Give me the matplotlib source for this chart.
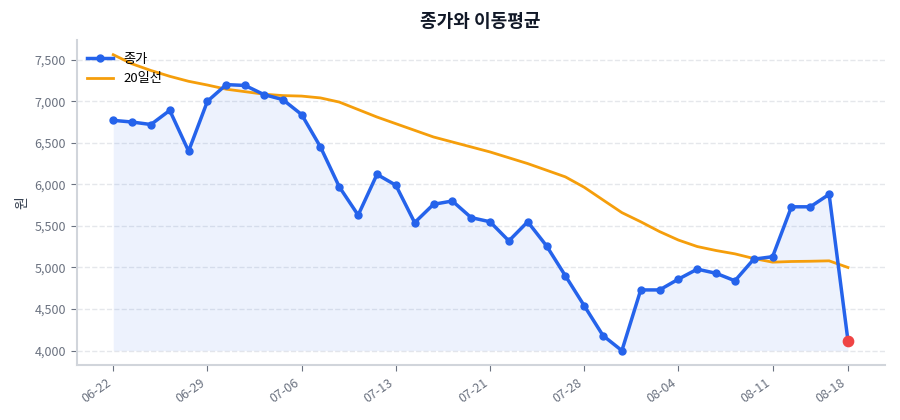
import numpy as np
import matplotlib
matplotlib.use("Agg")
import matplotlib.pyplot as plt

plt.rcParams["font.family"] = ["Noto Sans CJK KR", "DejaVu Sans"]
plt.rcParams["axes.unicode_minus"] = False

# 거래일 (MM-DD)
dates = [
    "06-22", "06-23", "06-24", "06-25", "06-26",
    "06-29", "06-30", "07-01", "07-02", "07-03",
    "07-06", "07-07", "07-08", "07-09", "07-10",
    "07-13", "07-14", "07-15", "07-16", "07-20",
    "07-21", "07-22", "07-23", "07-24", "07-27",
    "07-28", "07-29", "07-30", "07-31", "08-03",
    "08-04", "08-05", "08-06", "08-07", "08-10",
    "08-11", "08-12", "08-13", "08-14", "08-18",
]

close = [
    6770, 6750, 6720, 6890, 6400, 7000, 7200, 7190, 7080, 7020,
    6840, 6450, 5970, 5630, 6120, 5990, 5540, 5760, 5800, 5600,
    5550, 5320, 5550, 5260, 4900, 4540, 4180, 4000, 4730, 4730,
    4860, 4980, 4930, 4840, 5100, 5130, 5730, 5730, 5880, 4120,
]

ma20 = [
    7560, 7450, 7370, 7300, 7240, 7195, 7145, 7115, 7085, 7068,
    7062, 7040, 6990, 6900, 6810, 6730, 6650, 6570, 6510, 6450,
    6390, 6320, 6250, 6170, 6090, 5965, 5812, 5660, 5550, 5432,
    5330, 5252, 5204, 5164, 5108, 5064, 5072, 5075, 5080, 5000,
]

x = np.arange(len(close))
close_arr = np.array(close)

fig, ax = plt.subplots(figsize=(9, 4.2), dpi=100)

ax.fill_between(x, close_arr, close_arr.min(), color="#2563eb", alpha=0.08, linewidth=0)
ax.plot(x, close_arr, color="#2563eb", linewidth=2.5, marker="o", markersize=5, label="종가", zorder=3)
ax.plot(x, ma20, color="#f59e0b", linewidth=2, label="20일선", zorder=2)
ax.scatter([x[-1]], [close_arr[-1]], color="#ef4444", s=55, zorder=4)

ticks = list(range(0, len(x), 5))
if ticks[-1] != len(x) - 1:
    ticks.append(len(x) - 1)
ax.set_xticks(ticks)
ax.set_xticklabels([dates[i] for i in ticks], rotation=35, ha="right", fontsize=9, color="#4b5563")

ax.yaxis.set_major_formatter(matplotlib.ticker.FuncFormatter(lambda v, p: f"{v:,.0f}"))
ax.tick_params(axis="y", labelsize=9, labelcolor="#374151")
ax.tick_params(colors="#6b7280", length=4)
ax.set_ylabel("원", fontsize=10, color="#374151")

ax.set_title("종가와 이동평균", fontsize=13, fontweight="bold", color="#111827", pad=9)

ax.grid(axis="y", linestyle="--", color="#e5e7eb", linewidth=1)
ax.set_axisbelow(True)
for side in ["top", "right"]:
    ax.spines[side].set_visible(False)
for side in ["left", "bottom"]:
    ax.spines[side].set_color("#d1d5db")
    ax.spines[side].set_linewidth(1.5)

ax.legend(loc="upper left", bbox_to_anchor=(0.003, 0.985), frameon=False, fontsize=9.5,
          borderaxespad=0.2, handletextpad=0.75)

fig.subplots_adjust(left=0.085, right=0.983, top=0.905, bottom=0.13)
fig.savefig("out.png")
